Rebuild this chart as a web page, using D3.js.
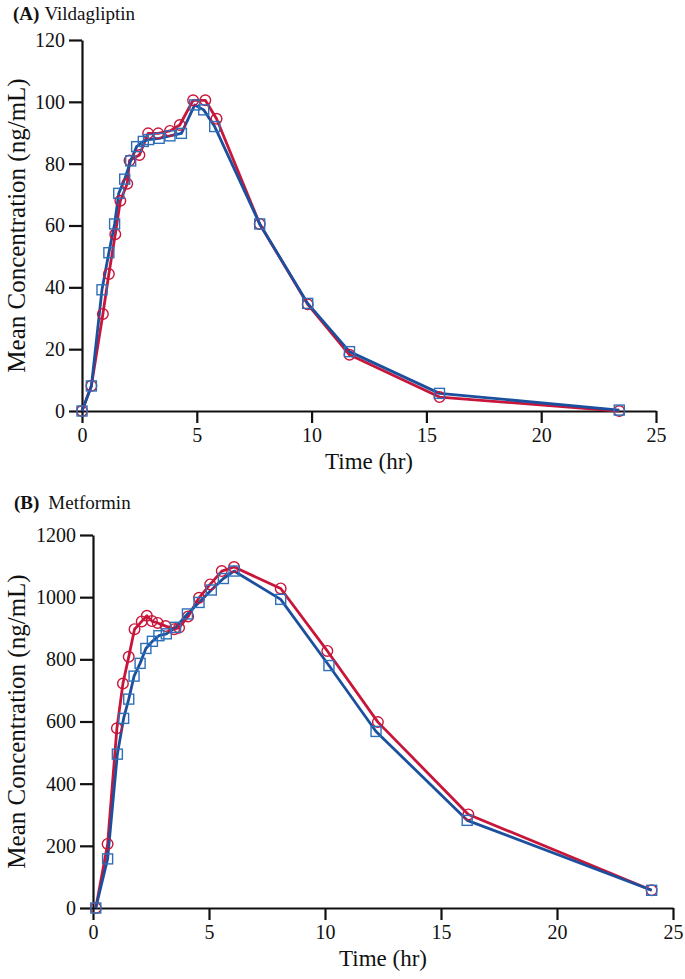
<!DOCTYPE html>
<html>
<head>
<meta charset="utf-8">
<script src="https://cdn.jsdelivr.net/npm/d3@7"></script>
<style>
body { margin: 0; background: #fff; }
svg { display: block; }
text { font-family: "Liberation Serif", "Times New Roman", serif; fill: #111; }
</style>
</head>
<body>
<svg id="chart" width="685" height="979"></svg>
<script>
// Panel A – Vildagliptin (ng/mL)
const vildaRedTime  = [0, 0.41, 0.91, 1.17, 1.45, 1.67, 1.97, 2.07, 2.5, 2.88, 3.32, 3.83, 4.26, 4.84, 5.37, 5.86, 7.74, 9.83, 11.65, 15.57, 23.4];
const vildaRedConc  = [0, 8.2, 31.4, 44.3, 57.2, 68, 73.5, 81, 82.8, 89.8, 89.8, 90.6, 92.5, 100.5, 100.5, 94.5, 60.5, 34.5, 18.2, 4.5, 0];
const vildaBlueTime = [0, 0.41, 0.87, 1.17, 1.42, 1.6, 1.86, 2.12, 2.38, 2.67, 2.9, 3.36, 3.83, 4.33, 4.91, 5.3, 5.78, 7.74, 9.83, 11.65, 15.57, 23.4];
const vildaBlueConc = [0, 8.1, 39.2, 51.2, 60.5, 70.4, 75, 80.9, 85.5, 87.2, 87.8, 88.2, 89, 89.8, 99, 97.4, 92, 60.5, 34.8, 19.2, 5.7, 0.3];

// Panel B – Metformin (ng/mL)
const metRedTime  = [0.12, 0.63, 1.03, 1.29, 1.54, 1.79, 2.1, 2.32, 2.54, 2.79, 3.13, 3.5, 3.71, 4.1, 4.57, 5.05, 5.55, 6.08, 8.09, 10.1, 12.28, 16.18, 24.08];
const metRedConc  = [0, 206, 578, 722, 808, 897, 922, 940, 923, 917, 907, 897, 902, 938, 998, 1041, 1084, 1097, 1028, 827, 598, 301, 57];
const metBlueTime = [0.12, 0.63, 1.05, 1.32, 1.54, 1.77, 2.03, 2.28, 2.56, 2.84, 3.16, 3.56, 4.07, 4.57, 5.1, 5.62, 6.08, 8.09, 10.17, 12.2, 16.13, 24.08];
const metBlueConc = [0, 158, 495, 610, 672, 746, 787, 835, 858, 876, 882, 903, 946, 983, 1023, 1060, 1084, 993, 780, 568, 282, 57];

const xTicks = [0, 5, 10, 15, 20, 25];
const yTicksA = [0, 20, 40, 60, 80, 100, 120];
const yTicksB = [0, 200, 400, 600, 800, 1000, 1200];

const RED = "#c8163a";
const BLUE = "#1b509e";
const BLUE_M = "#2e6fb8";

const svg = d3.select("#chart");

function panel(cfg) {
  const x = d3.scaleLinear().domain([0, 25]).range([cfg.x0, cfg.x1]);
  const y = d3.scaleLinear().domain([0, cfg.ymax]).range([cfg.y0, cfg.y1]);
  const g = svg.append("g");

  const xAxis = g.append("g").attr("transform", `translate(0,${cfg.y0})`)
    .call(d3.axisBottom(x).tickValues(xTicks).tickFormat(d3.format("d")).tickSize(12).tickSizeOuter(0).tickPadding(5));
  const yAxis = g.append("g").attr("transform", `translate(${cfg.x0},0)`)
    .call(d3.axisLeft(y).tickValues(cfg.yTicks).tickFormat(d3.format("d")).tickSize(13).tickSizeOuter(0).tickPadding(4));
  [xAxis, yAxis].forEach(a => {
    a.selectAll("path.domain").attr("stroke", "#111").attr("stroke-width", 2.2);
    a.selectAll(".tick line").attr("stroke", "#111").attr("stroke-width", 2.2);
    a.selectAll(".tick text").style("font-family", '"Liberation Serif", serif').style("font-size", "20px").attr("fill", "#111");
  });

  const line = d3.line().x(d => x(d[0])).y(d => y(d[1]));
  const series = [
    { t: cfg.redT, c: cfg.redC, color: RED, mcolor: RED, shape: "circle" },
    { t: cfg.blueT, c: cfg.blueC, color: BLUE, mcolor: BLUE_M, shape: "square" }
  ];
  series.forEach(s => {
    const pts = s.t.map((t, i) => [t, s.c[i]]);
    g.append("path").datum(pts).attr("d", line)
      .attr("fill", "none").attr("stroke", s.color).attr("stroke-width", 2.8)
      .attr("stroke-linejoin", "round");
  });
  series.forEach(s => {
    const pts = s.t.map((t, i) => [t, s.c[i]]);
    if (s.shape === "circle") {
      g.selectAll(null).data(pts).enter().append("circle")
        .attr("cx", d => x(d[0])).attr("cy", d => y(d[1])).attr("r", 5.3)
        .attr("fill", "none").attr("stroke", s.mcolor).attr("stroke-width", 1.4);
    } else {
      g.selectAll(null).data(pts).enter().append("rect")
        .attr("x", d => x(d[0]) - 5).attr("y", d => y(d[1]) - 5)
        .attr("width", 10).attr("height", 10)
        .attr("fill", "none").attr("stroke", s.mcolor).attr("stroke-width", 1.4);
    }
  });

  g.append("text").attr("x", (cfg.x0 + cfg.x1) / 2).attr("y", cfg.y0 + 58)
    .attr("text-anchor", "middle").style("font-size", "23px").text("Time (hr)");
  g.append("text")
    .attr("transform", `translate(${cfg.ylabX},${(cfg.y0 + cfg.y1) / 2}) rotate(-90)`)
    .attr("text-anchor", "middle").style("font-size", "25px").text("Mean Concentration (ng/mL)");

  const title = g.append("text").attr("x", cfg.tx).attr("y", cfg.ty).style("font-size", "19px");
  title.append("tspan").style("font-weight", "bold").text(cfg.tag);
  title.append("tspan").attr("dx", cfg.gap).text(cfg.name);
}

panel({
  x0: 82, x1: 656, y0: 411, y1: 40, ymax: 120, yTicks: yTicksA,
  redT: vildaRedTime, redC: vildaRedConc, blueT: vildaBlueTime, blueC: vildaBlueConc,
  ylabX: 25, tx: 13, ty: 20, tag: "(A)", name: "Vildagliptin", gap: 5
});
panel({
  x0: 93, x1: 673, y0: 908, y1: 535, ymax: 1200, yTicks: yTicksB,
  redT: metRedTime, redC: metRedConc, blueT: metBlueTime, blueC: metBlueConc,
  ylabX: 25, tx: 14, ty: 509, tag: "(B)", name: "Metformin", gap: 9
});
</script>
</body>
</html>
